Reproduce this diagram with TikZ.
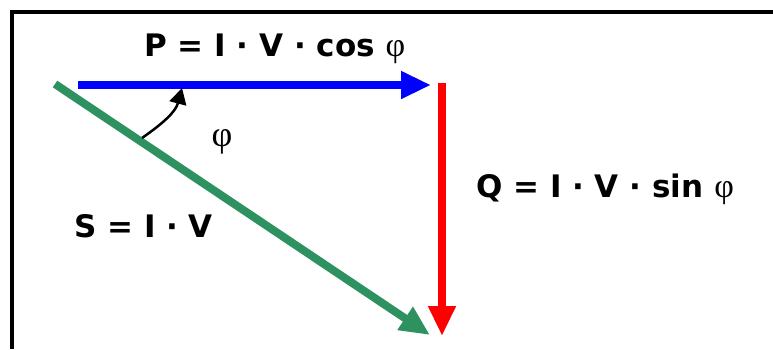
\documentclass[tikz,border=0pt]{standalone}
\usepackage{fontspec}
\setmainfont{DejaVu Sans}
\newfontfamily\phifont{Liberation Serif}
\usetikzlibrary{arrows.meta,positioning}

\definecolor{vgreen}{RGB}{46,145,96}
\newcommand{\phisym}{{\phifont\mdseries\fontsize{34}{34}\selectfont φ}}

\begin{document}
\begin{tikzpicture}[x=1pt, y=-1pt,
    % ---------- estilos ----------
    frame/.style={line width=3.5pt, black},
    vec/.style={line width=8pt, -{Triangle[length=30pt, width=26pt]}},
    lbl/.style={font=\fontsize{31}{31}\selectfont\bfseries, inner sep=0pt,
      anchor=base west},
    ang/.style={line width=2.5pt, -{Triangle[length=16pt, width=17pt]}}
]
\useasboundingbox (0,0) rectangle (773,349);

% ====== Marco ======
\draw[frame] (12,349) -- (12,12) -- (773,12);

% ====== Puntos del triangulo ======
\coordinate (s0) at (55,84);
\coordinate (p0) at (78,85);
\coordinate (p1) at (431,85);
\coordinate (q0) at (442,83);
\coordinate (q1) at (442,336);
\coordinate (s1) at (430,335);
\coordinate (a0) at (142,138);
\coordinate (a1) at (182,88);

% ====== Vectores ======
\draw[vec, blue] (p0) -- (p1);
\draw[vec, red] (q0) -- (q1);
\draw[vec, vgreen] (s0) -- (s1);

% ====== Angulo ======
\draw[ang] (a0) to[out=35, in=-105] (a1);
\node[font=\fontsize{36}{36}\selectfont\phifont, inner sep=0pt] (phi) at (222,142) {φ};

% ====== Etiquetas ======
\node[lbl] (P) at (144,56) {P = I · V · cos \phisym};
\node[lbl] (Q) at (476,197) {Q = I · V · sin \phisym};
\node[lbl] (S) at (74,237) {S = I · V};

\end{tikzpicture}
\end{document}
